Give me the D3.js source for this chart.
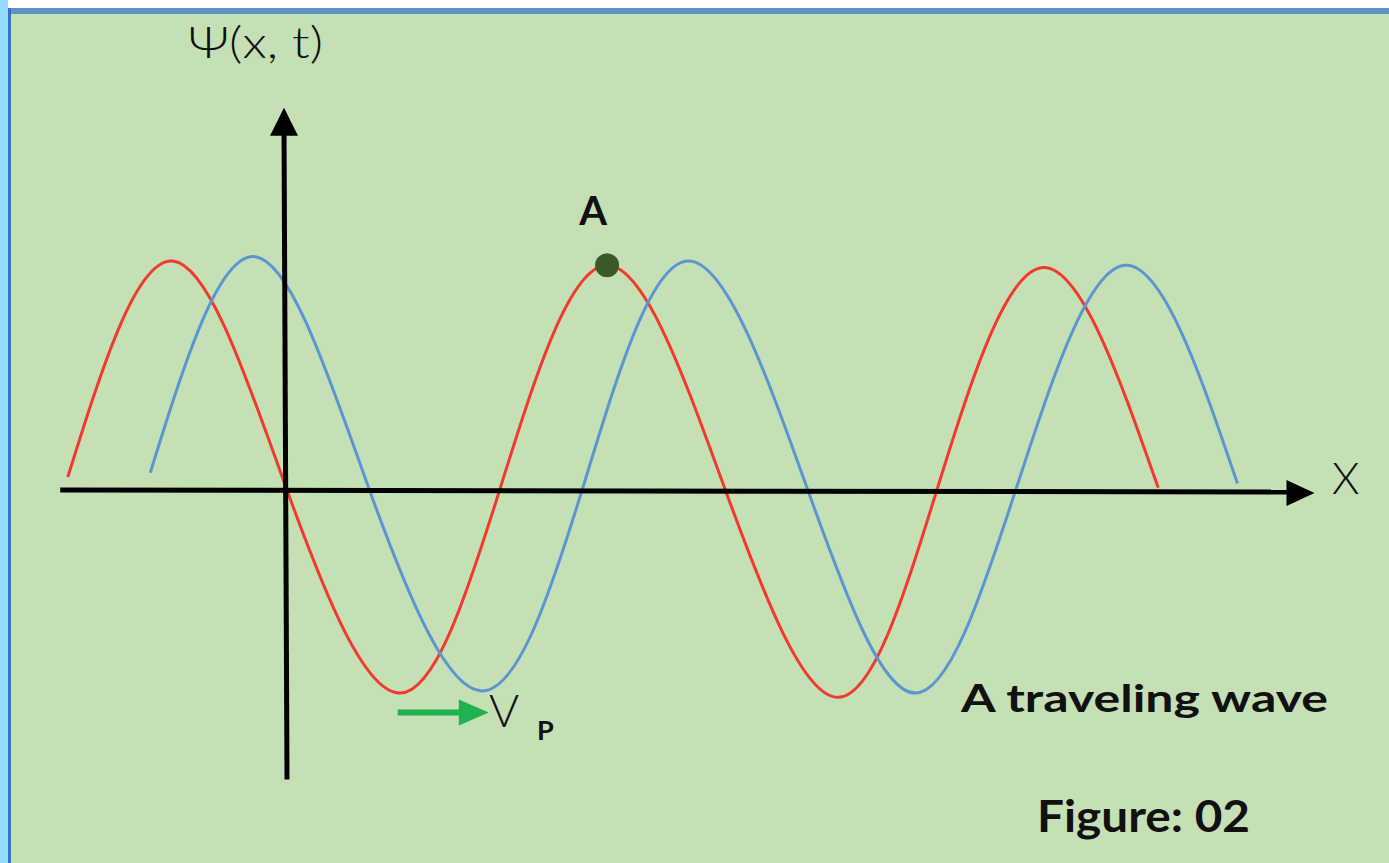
<!DOCTYPE html>
<html lang="en">
<head>
<meta charset="utf-8">
<title>A traveling wave</title>
<script src="https://cdn.jsdelivr.net/npm/d3@7"></script>
<style>
  html, body { margin: 0; padding: 0; background: #fff; }
  svg { display: block; }
  text { font-family: Lato, "DejaVu Sans", sans-serif; fill: #111; }
</style>
</head>
<body>
<div id="chart"></div>
<script>
var W = 1389, H = 863;

// wave at time t (red) : x in quarter wavelengths, y in amplitude units
var redX = [-2.02, -1.05, 0, 1.04, 1.96, 2.95, 4.04, 5.08, 5.99, 6.97, 8.03];
var redY = [0.06, 1.06, 0, -0.94, 0, 1.04, 0, -0.96, 0, 1.03, 0.01];

// same wave a moment later (blue), shifted to the right
var blueX = [-1.26, -0.29, 0.76, 1.80, 2.72, 3.70, 4.80, 5.79, 6.71, 7.72, 8.76];
var blueY = [0.08, 1.08, 0, -0.93, 0, 1.06, 0, -0.94, -0.01, 1.04, 0.03];

// axes and annotations
var xAxisEnds = [-2.09, 9.47];
var yAxisEnds = [-1.34, 1.77];
var pointA = {x: 2.95, y: 1.04, label: "A"};
var velocityArrow = {x0: 1.02, x1: 1.86, y: -1.03};

var x = d3.scaleLinear().domain([0, 1]).range([287, 395.5]);
var y = d3.scaleLinear().domain([-1, 1]).range([706, 274]);

var svg = d3.select("#chart").append("svg")
    .attr("width", W)
    .attr("height", H);

// frame
svg.append("rect").attr("width", W).attr("height", H).attr("fill", "#c5e0b4");
svg.append("rect").attr("x", 0).attr("y", 0).attr("width", W).attr("height", 8).attr("fill", "#fff");
svg.append("rect").attr("x", 0).attr("y", 8).attr("width", W).attr("height", 6).attr("fill", "#5f93c6");
svg.append("rect").attr("x", 0).attr("y", 0).attr("width", 8).attr("height", H).attr("fill", "#93dcff");
svg.append("rect").attr("x", 8).attr("y", 8).attr("width", 3).attr("height", H - 8).attr("fill", "#3573bf");

var line = d3.line()
    .x(function(d) { return x(d[0]); })
    .y(function(d) { return y(d[1]); })
    .curve(d3.curveNatural);

svg.append("path")
    .datum(d3.zip(redX, redY))
    .attr("d", line)
    .attr("fill", "none")
    .attr("stroke", "#f2392c")
    .attr("stroke-width", 3);

svg.append("path")
    .datum(d3.zip(blueX, blueY))
    .attr("d", line)
    .attr("fill", "none")
    .attr("stroke", "#5b96d2")
    .attr("stroke-width", 3);

// x axis with arrow
var xTip = x(xAxisEnds[1]);
svg.append("line")
    .attr("x1", x(xAxisEnds[0])).attr("y1", y(0))
    .attr("x2", xTip - 20).attr("y2", y(0) + 2)
    .attr("stroke", "#000").attr("stroke-width", 5);
svg.append("path")
    .attr("d", "M" + xTip + "," + (y(0) + 3) + " L" + (xTip - 28) + "," + (y(0) - 10) + " L" + (xTip - 28) + "," + (y(0) + 16) + "Z")
    .attr("fill", "#000");

// y axis with arrow
var yTip = y(yAxisEnds[1]);
svg.append("line")
    .attr("x1", x(0)).attr("y1", y(yAxisEnds[0]))
    .attr("x2", x(0) - 3).attr("y2", yTip + 20)
    .attr("stroke", "#000").attr("stroke-width", 5);
svg.append("path")
    .attr("d", "M" + (x(0) - 3) + "," + yTip + " L" + (x(0) - 17) + "," + (yTip + 28) + " L" + (x(0) + 11) + "," + (yTip + 28) + "Z")
    .attr("fill", "#000");

// point A
svg.append("circle")
    .attr("cx", x(pointA.x)).attr("cy", y(pointA.y))
    .attr("r", 12)
    .attr("fill", "#3b5a28");
svg.append("text")
    .attr("x", x(pointA.x) - 14).attr("y", 225)
    .attr("font-size", 40).attr("font-weight", "bold")
    .attr("text-anchor", "middle")
    .text(pointA.label);

// phase velocity arrow
var vy = y(velocityArrow.y);
svg.append("line")
    .attr("x1", x(velocityArrow.x0)).attr("y1", vy)
    .attr("x2", x(velocityArrow.x1) - 25).attr("y2", vy)
    .attr("stroke", "#1fb24f").attr("stroke-width", 6);
svg.append("path")
    .attr("d", "M" + x(velocityArrow.x1) + "," + vy + " L" + (x(velocityArrow.x1) - 30) + "," + (vy - 13) + " L" + (x(velocityArrow.x1) - 30) + "," + (vy + 13) + "Z")
    .attr("fill", "#1fb24f");

svg.append("text")
    .attr("x", 489).attr("y", 727)
    .attr("font-size", 46).attr("font-weight", 300)
    .text("V");
svg.append("text")
    .attr("x", 537).attr("y", 740)
    .attr("font-size", 27).attr("font-weight", "bold")
    .text("P");

// axis labels
svg.append("text")
    .attr("x", 188).attr("y", 58)
    .attr("font-size", 44).attr("font-weight", 300)
    .attr("textLength", 135).attr("lengthAdjust", "spacingAndGlyphs")
    .text("Ψ(x, t)");
svg.append("text")
    .attr("x", 1332).attr("y", 494)
    .attr("font-size", 44).attr("font-weight", 300)
    .text("X");

// captions
svg.append("text")
    .attr("x", 961).attr("y", 712)
    .attr("font-size", 38).attr("font-weight", "bold")
    .attr("textLength", 367).attr("lengthAdjust", "spacingAndGlyphs")
    .text("A traveling wave");
svg.append("text")
    .attr("x", 1037).attr("y", 832)
    .attr("font-size", 44).attr("font-weight", "bold")
    .attr("textLength", 213).attr("lengthAdjust", "spacingAndGlyphs")
    .text("Figure: 02");
</script>
</body>
</html>
